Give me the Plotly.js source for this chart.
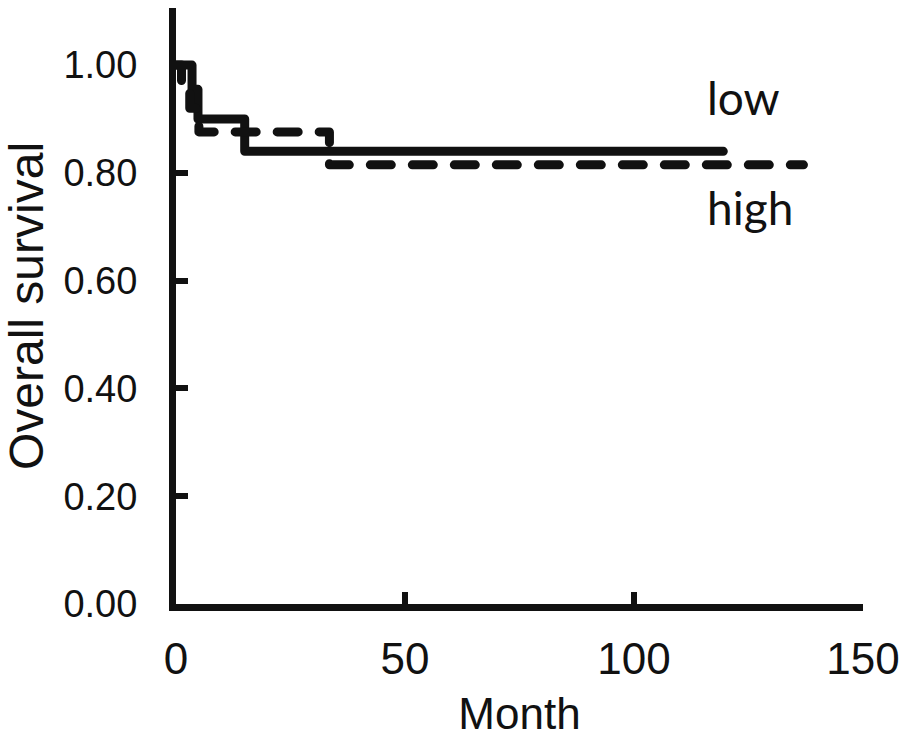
<!DOCTYPE html>
<html>
<head>
<meta charset="utf-8">
<script src="https://cdn.plot.ly/plotly-3.0.1.min.js"></script>
<style>
html,body{margin:0;padding:0;background:#fff;}
#chart{width:904px;height:738px;}
.scatterlayer path.js-line{stroke-linecap:round;stroke-linejoin:round;}
</style>
</head>
<body>
<div id="chart"></div>
<script>
// Kaplan-Meier step data
const lowMonths = [0, 3.5, 4.8, 15, 119.5];
const lowSurvival = [1.0, 0.955, 0.90, 0.84, 0.84];
const highMonths = [0, 1.2, 3, 5, 33.5, 137];
const highSurvival = [1.0, 0.96, 0.92, 0.876, 0.815, 0.815];

const xTickVals = [0, 50, 100, 150];
const yTickVals = [0, 0.2, 0.4, 0.6, 0.8, 1.0];
const yTickText = ['0.00', '0.20', '0.40', '0.60', '0.80', '1.00'];

const groupLabels = ['low', 'high'];
const labelMonths = [115.5, 115.5];
const labelSurvival = [0.94, 0.735];

const traces = [
  {
    x: lowMonths, y: lowSurvival, type: 'scatter', mode: 'lines',
    line: {shape: 'hv', color: '#111', width: 9},
    name: 'low', hoverinfo: 'x+y'
  },
  {
    x: highMonths, y: highSurvival, type: 'scatter', mode: 'lines',
    line: {shape: 'hv', color: '#111', width: 9, dash: '21px,21px'},
    name: 'high', hoverinfo: 'x+y'
  }
];

const annotations = groupLabels.map((t, i) => ({
  x: labelMonths[i], y: labelSurvival[i], xref: 'x', yref: 'y',
  text: t, showarrow: false, xanchor: 'left', yanchor: 'middle',
  font: {family: 'Lato, "Open Sans", sans-serif', size: 46, color: '#111'}
}));

const layout = {
  width: 904, height: 738,
  margin: {l: 176, r: 41, t: 8, b: 134},
  paper_bgcolor: '#fff', plot_bgcolor: '#fff',
  showlegend: false,
  xaxis: {
    range: [0, 150], tickvals: xTickVals, ticktext: xTickVals.map(String),
    ticks: 'inside', ticklen: 12, tickwidth: 6, tickcolor: '#111',
    showline: true, linewidth: 7, linecolor: '#111',
    showgrid: false, zeroline: false,
    ticklabelstandoff: 10,
    tickfont: {family: '"Liberation Sans", Arial, sans-serif', size: 44, color: '#111'},
    title: {text: 'Month', standoff: 30,
      font: {family: '"Liberation Sans", Arial, sans-serif', size: 44, color: '#111'}},
    automargin: false
  },
  yaxis: {
    range: [0, 1.106], tickvals: yTickVals, ticktext: yTickText,
    ticks: 'inside', ticklen: 12, tickwidth: 6, tickcolor: '#111',
    showline: true, linewidth: 7, linecolor: '#111',
    showgrid: false, zeroline: false,
    ticklabelstandoff: 24,
    tickfont: {family: '"Liberation Sans", Arial, sans-serif', size: 38, color: '#111'},
    title: {text: 'Overall survival', standoff: 12,
      font: {family: '"Liberation Sans", Arial, sans-serif', size: 48, color: '#111'}},
    automargin: false
  },
  annotations: annotations
};

Plotly.newPlot('chart', traces, layout, {displayModeBar: false, staticPlot: true});
</script>
</body>
</html>
